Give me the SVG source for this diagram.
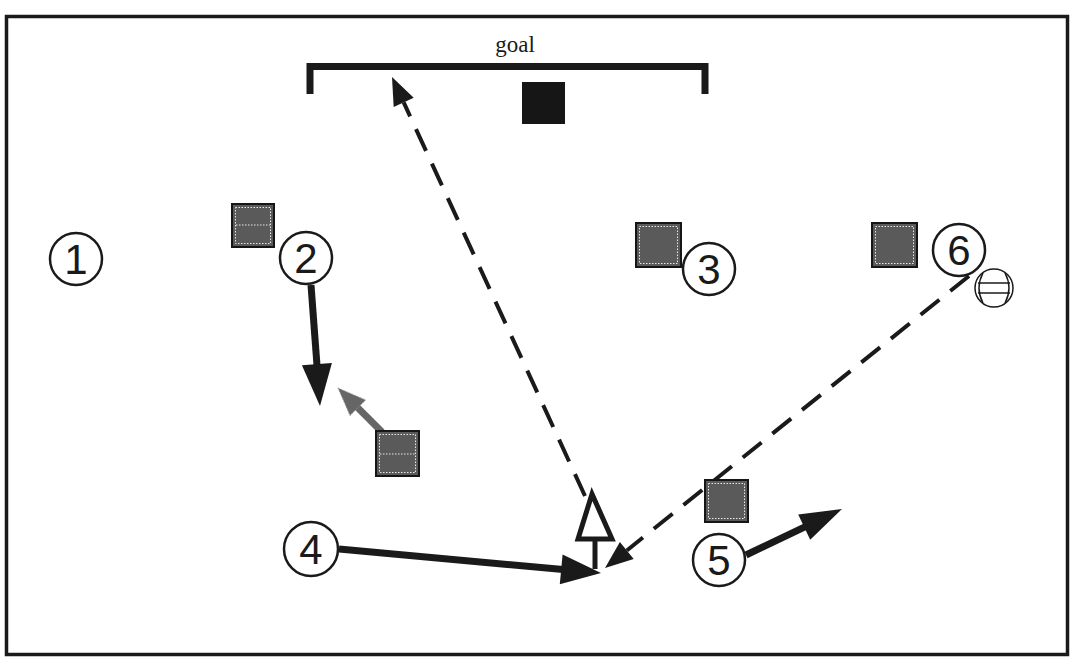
<svg xmlns="http://www.w3.org/2000/svg" width="1076" height="668" viewBox="0 0 1076 668">
<style>
.frame{fill:#fff;stroke:#1a1a1a;stroke-width:3.5}
.goal{fill:none;stroke:#1a1a1a;stroke-width:7;stroke-linejoin:miter}
.keeper{fill:#161616}
.def{fill:#5a5a5a;stroke:#161616;stroke-width:2}
.dots{fill:none;stroke:#e8e8e8;stroke-width:1;stroke-dasharray:1.5 1.5}
.pc{fill:#fff;stroke:#1a1a1a;stroke-width:2.5}
.num{font-family:"Liberation Sans",Arial,sans-serif;font-size:42px;fill:#1a1a1a;text-anchor:middle}
.lbl{font-family:"Liberation Serif","Times New Roman",serif;font-size:23px;fill:#1a1a1a;text-anchor:middle}
.run{fill:none;stroke:#1a1a1a;stroke-width:7}
.pass{fill:none;stroke:#1a1a1a;stroke-width:4;stroke-dasharray:24 14}
.grun{fill:none;stroke:#666;stroke-width:7}
.head{fill:#1a1a1a}
.ghead{fill:#666;stroke:#9a9a9a;stroke-width:1;stroke-dasharray:1.5 1.5}
</style>

<rect class="frame" x="6.5" y="16.5" width="1061" height="638"/>

<g id="goal">
<polyline class="goal" points="310,94 310,66.5 705,66.5 705,94"/>
<text class="lbl" x="515" y="52">goal</text>
</g>
<g id="keeper"><rect class="keeper" x="522" y="82" width="43" height="42"/></g>

<g id="connectors">
<g id="pass-goal">
<line class="pass" x1="585" y1="496" x2="403.7" y2="102.4"/>
<polygon class="head" points="392,77 413.7,97.8 393.7,107"/>
</g>
<g id="pass-6">
<line class="pass" x1="969" y1="276" x2="626.8" y2="550.5"/>
<polygon class="head" points="605,568 633.7,559.1 619.9,541.9"/>
</g>
<g id="run-2">
<line class="run" x1="311" y1="285" x2="317.2" y2="368"/>
<polygon class="head" points="320,406 301.9,365.2 331.9,363"/>
</g>
<g id="run-4">
<line class="run" x1="339" y1="549" x2="563" y2="569.5"/>
<polygon class="head" points="601,573 562.6,554.4 559.8,584.3"/>
</g>
<g id="run-5">
<line class="run" x1="746" y1="555" x2="806" y2="526.3"/>
<polygon class="head" points="842,509 810.2,539.7 798.2,514.5"/>
</g>
<g id="run-def">
<line class="grun" x1="382" y1="432" x2="356.4" y2="406.4"/>
<polygon class="ghead" points="338,388 365.6,400 350,415.6"/>
</g>
<g id="jump">
<line x1="595" y1="538" x2="595" y2="569" stroke="#1a1a1a" stroke-width="5"/>
<polygon points="592,494 612,539 578,539" fill="#fff" stroke="#1a1a1a" stroke-width="5" stroke-linejoin="miter"/>
</g>
</g>

<g id="defA"><rect class="def" x="232" y="204" width="42" height="43"/><rect class="dots" x="235.5" y="207.5" width="35" height="36"/><line class="dots" x1="236" y1="225" x2="270" y2="225"/></g>
<g id="defB"><rect class="def" x="376" y="431" width="43" height="45"/><rect class="dots" x="379.5" y="434.5" width="36" height="38"/><line class="dots" x1="380" y1="454" x2="415" y2="454"/></g>
<g id="def3"><rect class="def" x="636" y="223" width="45" height="44"/><rect class="dots" x="639.5" y="226.5" width="38" height="37"/></g>
<g id="def6"><rect class="def" x="872" y="223" width="45" height="44"/><rect class="dots" x="875.5" y="226.5" width="38" height="37"/></g>
<g id="def5"><rect class="def" x="705" y="480" width="43" height="42"/><rect class="dots" x="708.5" y="483.5" width="36" height="35"/></g>

<g id="p1"><circle class="pc" cx="76" cy="259" r="26"/><text class="num" x="76" y="274">1</text></g>
<g id="p2"><circle class="pc" cx="306" cy="258" r="26"/><text class="num" x="306" y="273">2</text></g>
<g id="p3"><circle class="pc" cx="709" cy="269" r="26"/><text class="num" x="709" y="284">3</text></g>
<g id="p4"><circle class="pc" cx="311" cy="549" r="27"/><text class="num" x="311" y="564">4</text></g>
<g id="p5"><circle class="pc" cx="719" cy="560" r="26"/><text class="num" x="719" y="575">5</text></g>
<g id="p6"><circle class="pc" cx="959" cy="250" r="26"/><text class="num" x="959" y="265">6</text></g>

<g id="ball" fill="none" stroke="#1a1a1a" stroke-width="1.5">
<circle cx="994" cy="288" r="19" fill="#fff"/>
<line x1="978" y1="283" x2="1010" y2="283"/>
<line x1="978" y1="293" x2="1010" y2="293"/>
<path d="M983,273 Q975,288 983,303"/>
<path d="M1005,273 Q1013,288 1005,303"/>
</g>
</svg>
